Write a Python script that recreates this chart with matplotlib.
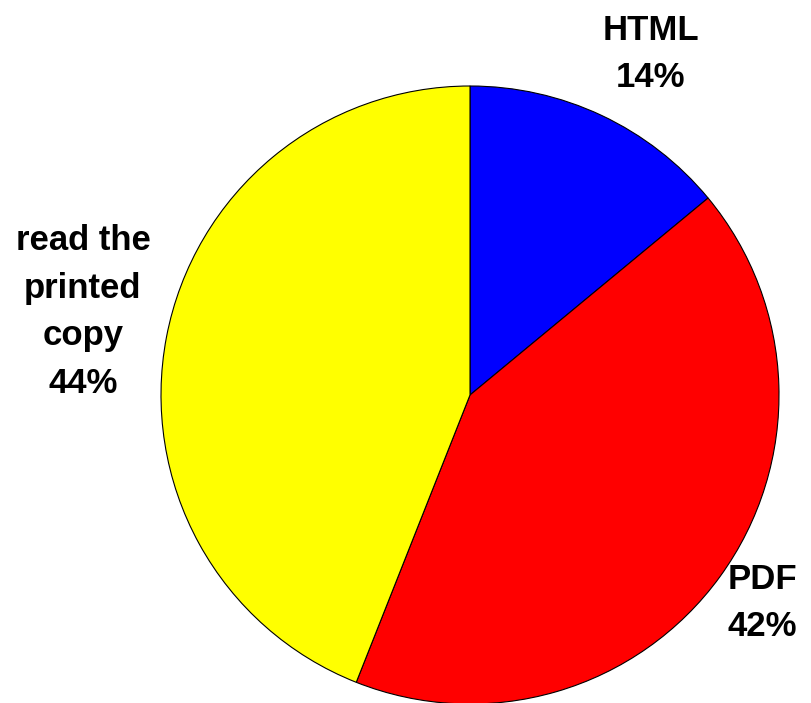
import matplotlib

matplotlib.use("Agg")
import matplotlib.pyplot as plt

categories = ["HTML", "PDF", "read the\nprinted\ncopy"]
shares = [14, 42, 44]
colors = ["#0000FF", "#FF0000", "#FFFF00"]

# label anchor points in pixel space (x, y from top)
label_pos = [(651, 54), (762, 603), (83, 312)]

W, H = 812, 703
fig = plt.figure(figsize=(W / 100, H / 100), dpi=100)
ax = fig.add_axes([0, 0, 1, 1])

ax.pie(
    shares,
    colors=colors,
    startangle=90,
    counterclock=False,
    center=(470, H - 395),
    radius=309,
    wedgeprops=dict(edgecolor="black", linewidth=0.8),
    frame=True,
)
ax.set_xlim(0, W)
ax.set_ylim(0, H)
ax.set_aspect("equal")
ax.axis("off")

for name, val, (x, y) in zip(categories, shares, label_pos):
    ax.text(x, H - y, f"{name}\n{val}%", ha="center", va="center",
            fontsize=25, fontweight="bold", family="Liberation Sans",
            linespacing=1.56)

fig.savefig("out.png", dpi=100)
